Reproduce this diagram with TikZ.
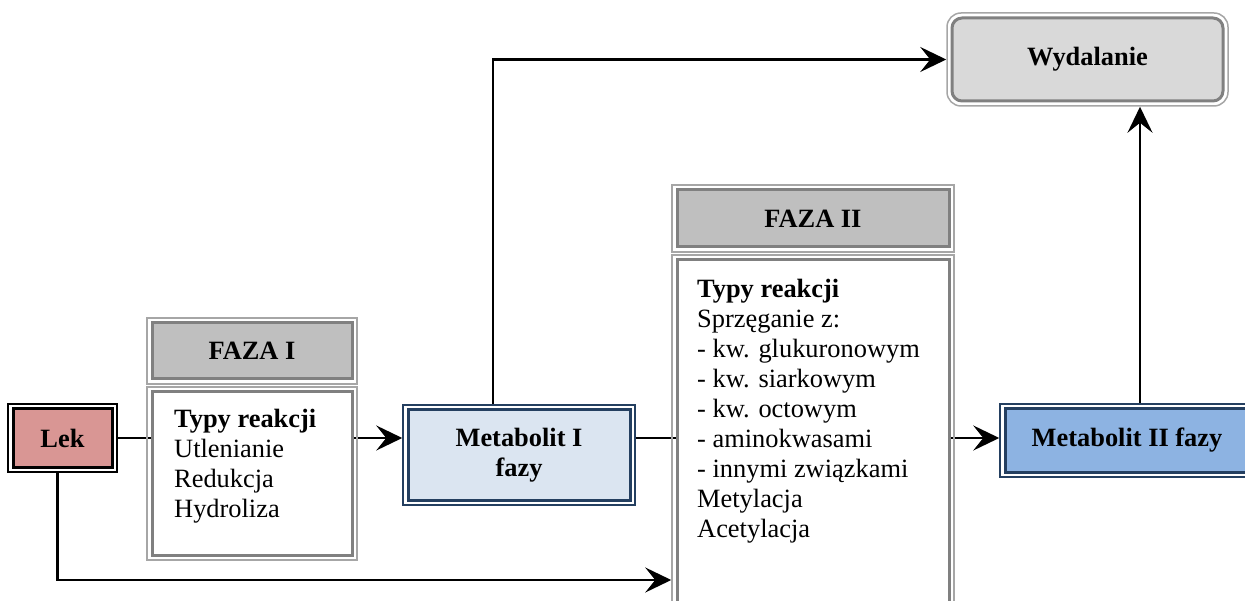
\documentclass[tikz,border=0pt]{standalone}
\usepackage{fontspec}
\setmainfont{Liberation Serif}
\usepackage{tikz}
\usetikzlibrary{arrows.meta}
\usetikzlibrary{backgrounds}

\definecolor{lekfill}{RGB}{217,150,148}
\definecolor{met1fill}{RGB}{219,229,241}
\definecolor{met2fill}{RGB}{141,179,226}
\definecolor{metline}{RGB}{36,63,96}
\definecolor{headfill}{RGB}{191,191,191}
\definecolor{wydfill}{RGB}{217,217,217}
\definecolor{grayout}{RGB}{166,166,166}
\definecolor{grayin}{RGB}{128,128,128}

\tikzset{
    dblbox/.style n args={3}{draw=#1, line width=1.5pt, inner sep=0pt,
        path picture={\filldraw[draw=#2, fill=#3, line width=3pt]
            ([shift={(5pt,5pt)}]path picture bounding box.south west) rectangle
            ([shift={(-5pt,-5pt)}]path picture bounding box.north east);}},
    dblround/.style n args={3}{draw=#1, line width=1.5pt, inner sep=0pt, rounded corners=14pt,
        path picture={\filldraw[draw=#2, fill=#3, line width=3pt, rounded corners=10pt]
            ([shift={(5pt,5pt)}]path picture bounding box.south west) rectangle
            ([shift={(-5pt,-5pt)}]path picture bounding box.north east);}},
    big/.style={font=\fontsize{26.4}{30}\selectfont},
    bigb/.style={font=\fontsize{26.4}{30}\selectfont\bfseries},
    conn/.style={line width=2.7pt, -{Stealth[length=26pt,width=25pt,inset=10pt]}},
}

\begin{document}
\begin{tikzpicture}[x=1pt,y=-1pt]

        \useasboundingbox (0,0) rectangle (1245,601);
        \clip (0,0) rectangle (1245,601);

        \node[dblbox={black}{black}{lekfill},minimum width=109pt,minimum height=68pt,bigb] (lek) at (62.5,438) {Lek};

        \node[dblbox={grayout}{grayin}{headfill},minimum width=210pt,minimum height=66pt,bigb] (f1head) at (252,351) {FAZA I};
        \node[dblbox={grayout}{grayin}{white},minimum width=210pt,minimum height=173pt] (f1body) at (252,473.5) {};
        \node[big,align=left,inner sep=0pt,anchor=north west] (f1text) at (174,409) {\textbf{Typy reakcji}\\Utlenianie\\Redukcja\\Hydroliza};

        \node[dblbox={metline}{metline}{met1fill},minimum width=232pt,minimum height=100pt,bigb,align=center] (met1) at (519,455) {Metabolit I\\fazy};

        \node[dblbox={grayout}{grayin}{headfill},minimum width=282pt,minimum height=67pt,bigb] (f2head) at (813,218.5) {FAZA II};
        \node[dblbox={grayout}{grayin}{white},minimum width=282pt,minimum height=365pt] (f2body) at (813,437.5) {};
        \node[big,align=left,inner sep=0pt,anchor=north west] (f2text) at (697,279) {\textbf{Typy reakcji}\\Sprzęganie z:\\- kw. glukuronowym\\- kw. siarkowym\\- kw. octowym\\- aminokwasami\\- innymi związkami\\Metylacja\\Acetylacja};

        \node[dblround={grayout}{grayin}{wydfill},minimum width=281pt,minimum height=93pt,bigb] (wyd) at (1087.5,59.5) {Wydalanie};

        \node[dblbox={metline}{metline}{met2fill},minimum width=254pt,minimum height=73pt,bigb] (met2) at (1127,440.5) {Metabolit II fazy};

        \begin{pgfonlayer}{background}
        \draw[conn] (lek.east) -- (lek.east -| met1.west);
        \draw[conn] (lek.east -| met1.east) -- (lek.east -| met2.west);
        \draw[conn] ([xshift=-5pt]lek.south) |- ([yshift=-142.5pt]f2body.west);
        \draw[conn] ([xshift=-26pt]met1.north) |- (wyd.west);
        \draw[conn] ([xshift=13pt]met2.north) -- ([xshift=13pt]met2.north |- wyd.south);
        \end{pgfonlayer}

    \end{tikzpicture}
\end{document}
